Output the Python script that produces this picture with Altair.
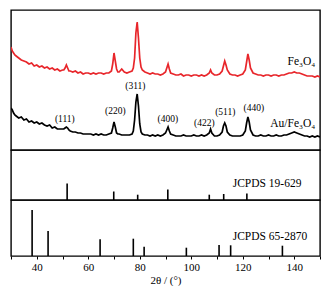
import altair as alt
import pandas as pd

# ---- XRD patterns (2theta, intensity in arbitrary offset units) ----
two_theta = [30, 30.5, 31, 31.5, 32, 33, 34, 35, 36, 37, 38, 39, 40, 41, 42, 43, 44, 45, 46, 47, 48, 49, 50,
             50.5, 51, 51.5, 52, 52.5, 53, 54, 55, 56, 57, 58, 59, 60, 61, 62, 63, 64, 65, 66, 67, 68, 69,
             69.5, 70, 70.5, 71, 71.5, 72, 73, 74, 75, 76, 77, 77.5, 78, 78.5, 79, 79.5, 80, 80.5, 81, 82,
             83, 84, 85, 86, 87, 88, 89, 90, 90.5, 91, 91.5, 92, 93, 94, 95, 96, 97, 98, 99, 100, 101, 102,
             103, 104, 105, 106, 107, 107.5, 108, 109, 110, 111, 112, 112.5, 113, 113.5, 114, 115, 116, 117,
             118, 119, 120, 121, 121.5, 122, 122.5, 123, 124, 125, 126, 127, 128, 129, 130, 131, 132, 133,
             134, 135, 136, 137, 138, 139, 140, 141, 142, 143, 144, 145, 146, 147, 148, 149, 150]

fe3o4 = [103, 99, 97, 95, 94, 92, 90, 89, 88, 86, 87, 84, 85, 83, 84, 82, 83, 81, 82, 80, 81, 79, 80,
         80, 82, 85, 82, 79, 79, 78, 79, 77, 78, 76, 77, 77, 76, 77, 76, 77, 77, 76, 77, 77, 79,
         86, 97, 89, 81, 78, 78, 81, 78, 77, 78, 79, 82, 92, 117, 128, 112, 92, 83, 80, 78,
         77, 76, 77, 76, 76, 75, 76, 78, 82, 86, 81, 77, 76, 75, 75, 76, 74, 75, 75, 74, 75, 75,
         74, 75, 74, 75, 77, 80, 77, 75, 75, 76, 79, 84, 89, 85, 80, 76, 75, 75,
         74, 75, 76, 80, 88, 96, 90, 82, 77, 76, 75, 75, 74, 75, 75, 74, 75, 75,
         74, 75, 75, 76, 77, 77, 78, 77, 77, 76, 75, 74, 74, 74, 73, 74, 73]

au_fe3o4 = [42, 40, 37, 35, 34, 32, 33, 30, 31, 28, 29, 27, 28, 26, 27, 25, 24, 25, 22, 23, 21, 21, 21,
            21, 22, 23, 22, 20, 19, 18, 18, 17, 17, 16, 16, 16, 16, 15, 16, 15, 16, 15, 15, 16, 17,
            22, 28, 23, 17, 16, 16, 15, 15, 15, 15, 16, 19, 30, 48, 56, 44, 26, 18, 16, 15,
            15, 14, 15, 14, 15, 14, 15, 17, 20, 23, 19, 16, 15, 14, 14, 14, 15, 14, 14, 14, 15, 14,
            14, 15, 14, 15, 17, 21, 17, 14, 14, 15, 18, 24, 27, 24, 18, 15, 14, 14,
            14, 14, 15, 19, 27, 33, 28, 20, 15, 14, 14, 15, 14, 14, 15, 14, 14, 15,
            14, 14, 15, 15, 16, 17, 18, 17, 16, 15, 14, 14, 13, 14, 13, 14, 13]

# ---- reference stick patterns ----
jcpds_19_629_pos = [51.8, 69.9, 79.2, 90.9, 107.0, 112.6, 121.6]
jcpds_19_629_int = [16.5, 8.5, 5.3, 10.5, 5.3, 6.0, 6.6]
jcpds_65_2870_pos = [38.2, 44.4, 64.6, 77.5, 81.7, 98.1, 110.8, 115.3, 135.4]
jcpds_65_2870_int = [46, 25, 16.7, 17.3, 9.3, 8.3, 11, 10.7, 10.3]

# ---- annotations ----
peak_labels = ["(111)", "(220)", "(311)", "(400)", "(422)", "(511)", "(440)"]
peak_label_x = [50.9, 70.5, 78.3, 90.9, 105.1, 113.2, 124.3]
peak_label_y = [31, 39, 64, 31, 27, 38, 42]
series_labels = ["Fe₃O₄", "Au/Fe₃O₄"]
series_label_x = [148.2, 148.2]
series_label_y = [84.7, 23]
ref_labels = ["JCPDS 19-629", "JCPDS 65-2870"]
ref_label_x = [116.1, 116.1]
ref_label_y = [15.7, 19.3]
x_ticks = [30, 40, 50, 60, 70, 80, 90, 100, 110, 120, 130, 140, 150]

FONT = "Liberation Serif"
W = 309
xscale = alt.Scale(domain=[30, 150], nice=False, zero=False)
ytop = alt.Scale(domain=[0, 140], nice=False)

curves = pd.DataFrame({"t": two_theta, "fe": fe3o4, "au": au_fe3o4})
peaks = pd.DataFrame({"x": peak_label_x, "y": peak_label_y, "t": peak_labels})
slabels = pd.DataFrame({"x": series_label_x, "y": series_label_y, "t": series_labels})

base_top = alt.Chart(curves)
red = base_top.mark_line(color="#e8262b", strokeWidth=1.7, clip=True).encode(
    x=alt.X("t:Q", scale=xscale, axis=None),
    y=alt.Y("fe:Q", scale=ytop, axis=None),
)
black = base_top.mark_line(color="black", strokeWidth=1.7, clip=True).encode(
    x=alt.X("t:Q", scale=xscale, axis=None),
    y=alt.Y("au:Q", scale=ytop, axis=None),
)
peak_text = alt.Chart(peaks).mark_text(font=FONT, fontSize=9.5, color="black", baseline="middle").encode(
    x=alt.X("x:Q", scale=xscale, axis=None),
    y=alt.Y("y:Q", scale=ytop, axis=None),
    text="t:N",
)
series_text = alt.Chart(slabels).mark_text(font=FONT, fontSize=11.5, color="black", align="right",
                                          baseline="alphabetic").encode(
    x=alt.X("x:Q", scale=xscale, axis=None),
    y=alt.Y("y:Q", scale=ytop, axis=None),
    text="t:N",
)
top = alt.layer(red, black, peak_text, series_text).properties(width=W, height=140)


def stick_panel(pos, inten, label, ly, h, show_axis):
    df = pd.DataFrame({"x": pos, "y0": [0] * len(pos), "y1": inten})
    ys = alt.Scale(domain=[0, h], nice=False)
    if show_axis:
        xax = alt.Axis(values=x_ticks, labelExpr="datum.value % 20 == 0 ? datum.label : ''",
                       title="2θ / (°)", grid=False, domain=False, tickSize=3, tickColor="black",
                       tickWidth=1, labelFont=FONT, labelFontSize=11, labelColor="black",
                       labelPadding=2, titleFont=FONT, titleFontSize=11, titleFontWeight="normal",
                       titleColor="black", titlePadding=2)
    else:
        xax = None
    sticks = alt.Chart(df).mark_rule(color="black", strokeWidth=1.6).encode(
        x=alt.X("x:Q", scale=xscale, axis=xax),
        y=alt.Y("y0:Q", scale=ys, axis=None),
        y2="y1:Q",
    )
    tdf = pd.DataFrame({"x": [ref_label_x[0]], "y": [ly], "t": [label]})
    txt = alt.Chart(tdf).mark_text(font=FONT, fontSize=11.5, color="black", align="left",
                                   baseline="middle").encode(
        x=alt.X("x:Q", scale=xscale, axis=xax),
        y=alt.Y("y:Q", scale=ys, axis=None),
        text="t:N",
    )
    return alt.layer(sticks, txt).properties(width=W, height=h)


mid = stick_panel(jcpds_19_629_pos, jcpds_19_629_int, ref_labels[0], ref_label_y[0], 50, False)
bot = stick_panel(jcpds_65_2870_pos, jcpds_65_2870_int, ref_labels[1], ref_label_y[1], 56, True)

chart = alt.vconcat(top, mid, bot, spacing=0, bounds="flush").properties(
    padding={"left": 9, "top": 9, "right": 0, "bottom": 0}
).configure_view(stroke="black", strokeWidth=1.4).configure_concat(spacing=0)

chart.save("out.html", embed_options={"renderer": "svg", "actions": False})
